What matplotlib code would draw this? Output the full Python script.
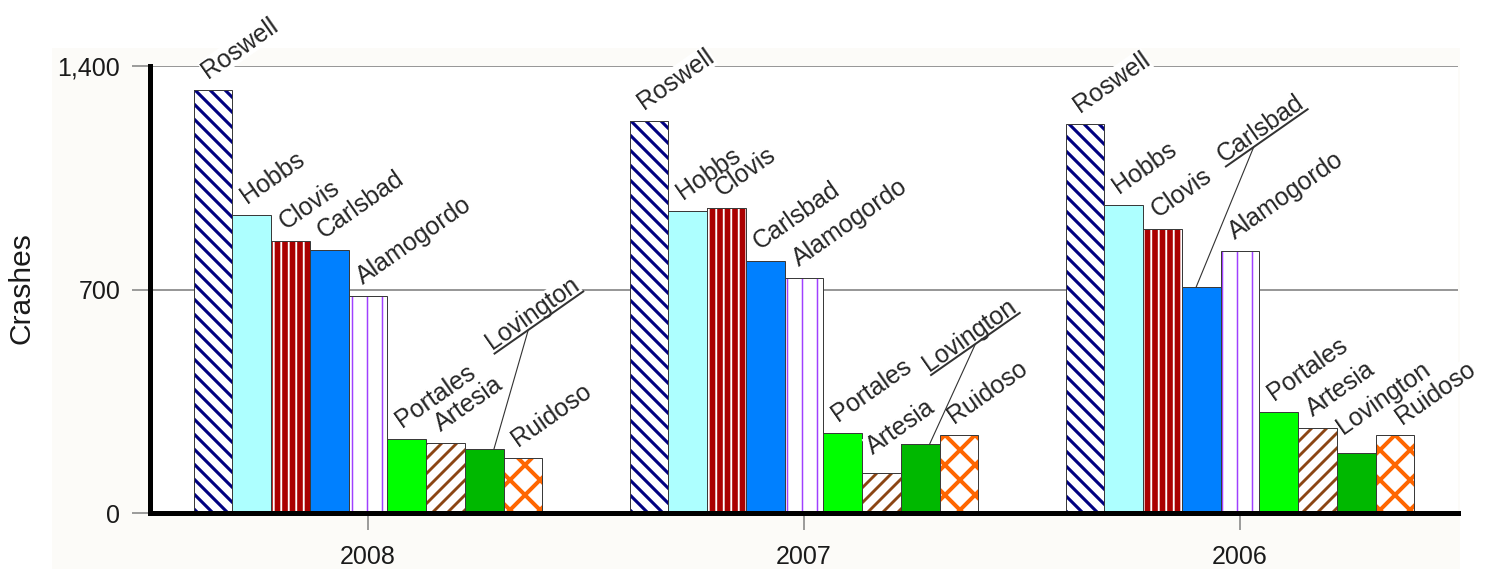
import numpy as np
import matplotlib
matplotlib.use("Agg")
import matplotlib.pyplot as plt
from matplotlib.patches import Rectangle
from matplotlib.lines import Line2D

plt.rcParams['font.family'] = ['Liberation Sans', 'DejaVu Sans']

# ---------------- data ----------------
years = ['2008', '2007', '2006']
cities = ['Roswell', 'Hobbs', 'Clovis', 'Carlsbad', 'Alamogordo',
          'Portales', 'Artesia', 'Lovington', 'Ruidoso']
roswell = [1324, 1227, 1217]
hobbs = [934, 945, 965]
clovis = [853, 954, 888]
carlsbad = [823, 789, 708]
alamogordo = [680, 735, 820]
portales = [231, 250, 318]
artesia = [221, 125, 266]
lovington = [201, 216, 188]
ruidoso = [174, 245, 245]
series = [roswell, hobbs, clovis, carlsbad, alamogordo,
          portales, artesia, lovington, ruidoso]
yticks = [0, 700, 1400]
yticklabels = ['0', '700', '1,400']

# ---------------- styles ----------------
# face, hatch colour, hatch, hatch linewidth (pt)
styles = [
    ('white', '#000080', '\\\\', 2.5),
    ('#ADFFFF', None, None, 0),
    ('#AA0000', 'white', '||', 1.5),
    ('#0080FF', None, None, 0),
    ('white', '#A040FF', '|', 1.2),
    ('#00FF00', None, None, 0),
    ('white', '#8B4513', '//', 2.3),
    ('#00B800', None, None, 0),
    ('white', '#FF6600', 'x', 3.2),
]
# label offsets that differ from the default (points)
label_offsets = {
    ('Lovington', 2): (-10.4, 14.4),
    ('Ruidoso', 2): (5.6, 8.0),
    ('Artesia', 1): (-7.2, 14.4),
}
# displaced (underlined) labels: (city, year index) -> (dx pt, dy pt, underline frac, bar frac)
displaced = {
    ('Lovington', 0): (6.4, 79.0, 0.38, 0.75),
    ('Lovington', 1): (6.8, 58.0, 0.50, 0.74),
    ('Carlsbad', 2): (17.9, 99.0, 0.34, 0.37),
}

DPI = 90
W, H = 1502, 569
fig = plt.figure(figsize=(W / DPI, H / DPI), dpi=DPI, facecolor='white')

# light panel behind chart
fig.patches.append(Rectangle((52 / W, 0), (1460 - 52) / W, (H - 48) / H,
                             transform=fig.transFigure, facecolor='#FCFBF8',
                             edgecolor='none', zorder=-5))

ax_l, ax_r, ax_t, ax_b = 150, 1458, 65.7, 513.3
ax = fig.add_axes([ax_l / W, 1 - ax_b / H, (ax_r - ax_l) / W, (ax_b - ax_t) / H])
ax.set_facecolor('white')
ax.set_xlim(-0.5, 2.5)
ax.set_ylim(0, 1400)

n = len(cities)
bw = 0.8 / n
xg = np.arange(len(years))

bars_all = []
for i, (vals, st) in enumerate(zip(series, styles)):
    face, hc, hatch, hlw = st
    xs = xg + (i - (n - 1) / 2) * bw
    if hatch:
        with plt.rc_context({'hatch.linewidth': hlw}):
            b = ax.bar(xs, vals, width=bw, color=face, edgecolor=hc, hatch=hatch,
                       linewidth=0, zorder=2)
        for p in b:
            if hasattr(p, 'set_hatch_linewidth'):
                p.set_hatch_linewidth(hlw)
    else:
        ax.bar(xs, vals, width=bw, color=face, linewidth=0, zorder=2)
    ax.bar(xs, vals, width=bw, fill=False, edgecolor='#3a3a3a', linewidth=0.8, zorder=2.5)
    bars_all.append(xs)

# axes styling
for s in ['top', 'right']:
    ax.spines[s].set_visible(False)
for s in ['left', 'bottom']:
    ax.spines[s].set_linewidth(4)
    ax.spines[s].set_color('black')
    ax.spines[s].set_zorder(3)
ax.set_yticks(yticks)
ax.set_yticklabels(yticklabels)
ax.set_xticks(xg)
ax.set_xticklabels(years)
ax.tick_params(axis='y', direction='out', length=14.4, width=1.3, color='#888888',
               pad=9.4, labelsize=20, labelcolor='#1a1a1a')
ax.tick_params(axis='x', direction='out', length=13.5, width=1.3, color='#888888',
               pad=12, labelsize=20, labelcolor='#1a1a1a')
ax.set_axisbelow(True)
ax.yaxis.grid(True, color='#8a8a8a', linewidth=1.4)
ax.xaxis.grid(False)

fig.text(21.5 / W, 1 - 288 / H, 'Crashes', rotation=90, ha='center', va='center',
         fontsize=24, color='#1a1a1a')

# ---------------- labels ----------------
ROT = 35
FS = 20
TXTC = '#262626'
px = DPI / 72.0
renderer = fig.canvas.get_renderer()
th = np.deg2rad(ROT)
u = np.array([np.cos(th), np.sin(th)])
nrm = np.array([np.sin(th), -np.cos(th)])
to_fig = fig.transFigure.inverted()

for i, city in enumerate(cities):
    xs = bars_all[i]
    for j in range(len(years)):
        v = series[i][j]
        xc = xs[j]
        key = (city, j)
        if key in displaced:
            dx, dy, uf, bf = displaced[key]
        else:
            dx, dy = label_offsets.get(key, (-4.0, 8.8))
        kw = dict(xy=(xc, v), xytext=(dx, dy), textcoords='offset points',
                  rotation=ROT, rotation_mode='anchor', ha='left', va='baseline',
                  fontsize=FS, annotation_clip=False)
        ax.annotate(city, color='none', zorder=4,
                    bbox=dict(boxstyle='square,pad=0.0', facecolor='white',
                              edgecolor='none'), **kw)
        ax.annotate(city, color=TXTC, zorder=5, **kw)
        if key in displaced:
            tmp = fig.text(0, 0, city, fontsize=FS)
            wpx = tmp.get_window_extent(renderer).width
            tmp.remove()
            A = ax.transData.transform((xc, v)) + np.array([dx, dy]) * px
            s0 = A + 4.0 * nrm
            s1 = s0 + wpx * u
            pts = to_fig.transform(np.vstack([s0, s1]))
            fig.add_artist(Line2D(pts[:, 0], pts[:, 1], color='#333333', linewidth=1.6,
                                  transform=fig.transFigure, zorder=6))
            p_top = s0 + uf * wpx * u
            b_pt = ax.transData.transform((xc - bw / 2 + bf * bw, v))
            pts2 = to_fig.transform(np.vstack([p_top, b_pt]))
            fig.add_artist(Line2D(pts2[:, 0], pts2[:, 1], color='#333333', linewidth=0.9,
                                  transform=fig.transFigure, zorder=6))

fig.savefig('out.png', dpi=DPI, facecolor='white')
